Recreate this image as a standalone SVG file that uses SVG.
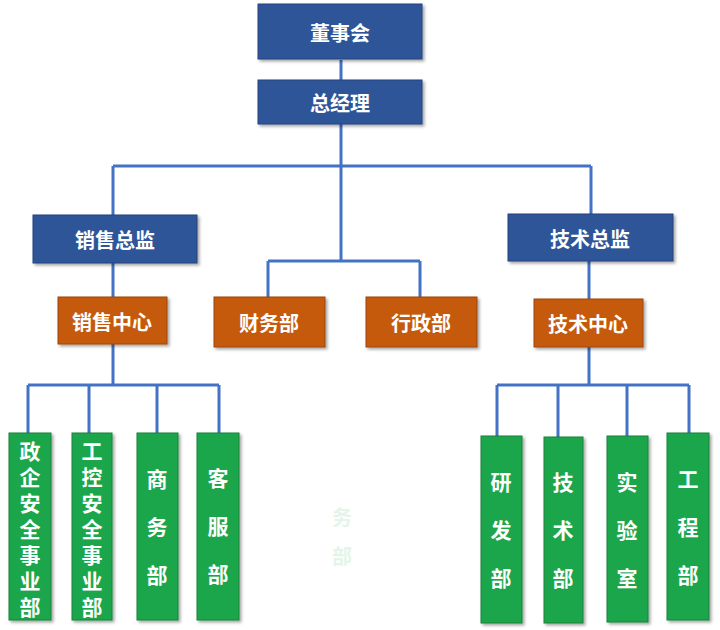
<svg xmlns="http://www.w3.org/2000/svg" width="720" height="630" viewBox="0 0 720 630">
<defs>
<filter id="sh" x="-20%" y="-20%" width="140%" height="140%">
<feDropShadow dx="2" dy="2" stdDeviation="1.5" flood-color="#000" flood-opacity="0.35"/>
</filter>
</defs>
<style>
.blue{fill:#2F5597;stroke:#24457d;stroke-width:1;filter:url(#sh)}
.orange{fill:#C55A11;stroke:#9c470d;stroke-width:1;filter:url(#sh)}
.green{fill:#1FA64B;stroke:#16803a;stroke-width:1;filter:url(#sh)}
.t{font-family:"Noto Sans CJK SC","Liberation Sans",sans-serif;font-weight:bold;fill:#fff;font-size:20px;text-anchor:middle;dominant-baseline:central}
.v{font-family:"Noto Sans CJK SC","Liberation Sans",sans-serif;font-weight:bold;fill:#fff;font-size:21px;text-anchor:middle;writing-mode:vertical-rl;text-orientation:upright}
.v7{letter-spacing:5px}
.v3{letter-spacing:27px}
.conn{fill:none;stroke:#4472C4;stroke-width:3}
.ghost{font-family:"Noto Sans CJK SC",sans-serif;font-weight:bold;fill:#e3f5e8;font-size:20px;text-anchor:middle;writing-mode:vertical-rl;letter-spacing:19px}
</style>
<rect width="720" height="630" fill="#fff"/>
<g id="connectors">
<path class="conn" d="M341 60V80M341 124V166M113 166H591M113 166V215M591 166V214"/>
<path class="conn" d="M113 263V297M113 344V385M28 385H219M28 385V433M89 385V433M157 385V433M219 385V433"/>
<path class="conn" d="M341 166V261M268 261H420M268 261V297M420 261V297"/>
<path class="conn" d="M589 261V299M589 347V385M497 385H689M497 385V436M558 385V437M627 385V436M689 385V433"/>
</g>
<g id="n-dongshihui"><rect class="blue" x="258" y="4" width="164" height="55"/><text class="t" x="340" y="32">董事会</text></g>
<g id="n-zongjingli"><rect class="blue" x="258" y="80" width="164" height="44"/><text class="t" x="340" y="102">总经理</text></g>
<g id="n-xiaoshouzongjian"><rect class="blue" x="33" y="215" width="164" height="48"/><text class="t" x="115" y="239">销售总监</text></g>
<g id="n-jishuzongjian"><rect class="blue" x="508" y="214" width="165" height="47"/><text class="t" x="590" y="238">技术总监</text></g>
<g id="n-xiaoshouzhongxin"><rect class="orange" x="58" y="297" width="109" height="47"/><text class="t" x="112" y="321">销售中心</text></g>
<g id="n-caiwubu"><rect class="orange" x="214" y="297" width="111" height="50"/><text class="t" x="269" y="322">财务部</text></g>
<g id="n-xingzhengbu"><rect class="orange" x="366" y="297" width="111" height="50"/><text class="t" x="421" y="322">行政部</text></g>
<g id="n-jishuzhongxin"><rect class="orange" x="534" y="299" width="109" height="48"/><text class="t" x="588" y="323">技术中心</text></g>
<g id="n-zhengqi"><rect class="green" x="9" y="433" width="42" height="187"/><text class="v v7" x="30" y="532">政企安全事业部</text></g>
<g id="n-gongkong"><rect class="green" x="72" y="433" width="40" height="187"/><text class="v v7" x="92" y="532">工控安全事业部</text></g>
<g id="n-shangwubu"><rect class="green" x="137" y="433" width="41" height="187"/><text class="v v3" x="157" y="541">商务部</text></g>
<g id="n-kefubu"><rect class="green" x="197" y="433" width="42" height="187"/><text class="v v3" x="218" y="540">客服部</text></g>
<g id="n-yanfabu"><rect class="green" x="481" y="436" width="41" height="187"/><text class="v v3" x="501" y="544">研发部</text></g>
<g id="n-jishubu"><rect class="green" x="544" y="437" width="39" height="186"/><text class="v v3" x="563" y="544">技术部</text></g>
<g id="n-shiyanshi"><rect class="green" x="607" y="436" width="41" height="186"/><text class="v v3" x="627" y="544">实验室</text></g>
<g id="n-gongchengbu"><rect class="green" x="667" y="433" width="42" height="187"/><text class="v v3" x="688" y="541">工程部</text></g>
<text class="ghost" x="342" y="546">务部</text>
</svg>
